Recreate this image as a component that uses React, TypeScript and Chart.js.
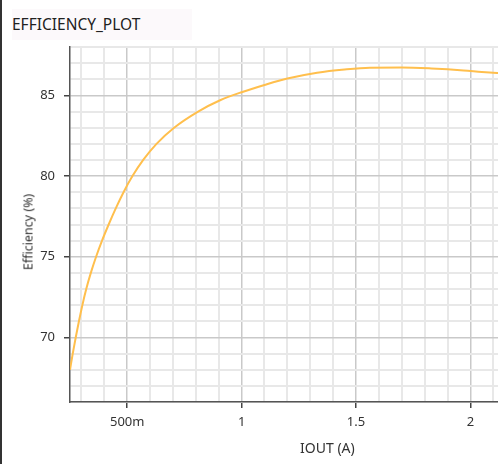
import { useEffect, useRef } from "react";
import { Chart, registerables } from "chart.js";

Chart.register(...registerables);

// values
const iout = [
  0.25, 0.262, 0.275, 0.289, 0.304, 0.321, 0.341, 0.364, 0.39, 0.419, 0.45,
  0.484, 0.523, 0.57, 0.628, 0.705, 0.81, 0.906, 1.0, 1.1, 1.2, 1.33, 1.45,
  1.56, 1.7, 1.83, 1.97, 2.05, 2.15,
];
const efficiency = [
  68.0, 69.0, 70.0, 71.0, 72.0, 73.0, 74.0, 75.0, 76.0, 77.0, 78.0, 79.0, 80.0,
  81.0, 82.0, 83.0, 84.0, 84.7, 85.2, 85.65, 86.05, 86.41, 86.61, 86.72,
  86.73, 86.67, 86.55, 86.45, 86.35,
];
const xMajorLabels: Record<string, string> = {
  "0.5": "500m",
  "1": "1",
  "1.5": "1.5",
  "2": "2",
  "2.5": "2.5",
};

const CANVAS_W = 600;
const CANVAS_H = 464;
const FONT = "'Noto Sans', sans-serif";

const isMult = (v: number, step: number) =>
  Math.abs(v / step - Math.round(v / step)) < 1e-6;

export default function App() {
  const ref = useRef<HTMLCanvasElement>(null);

  useEffect(() => {
    if (!ref.current) return;
    const canvas = ref.current;
    canvas.width = CANVAS_W;
    canvas.height = CANVAS_H;

    const xGrid: number[] = [];
    for (let i = 3; i <= 25; i++) xGrid.push(i / 10);
    const yGrid: number[] = [];
    for (let v = 66; v <= 88; v++) yGrid.push(v);

    const chart = new Chart(canvas, {
      type: "line",
      data: {
        datasets: [
          {
            label: "Efficiency",
            data: iout.map((x, i) => ({ x, y: efficiency[i] })),
            borderColor: "#ffbf4d",
            borderWidth: 2,
            pointRadius: 0,
            cubicInterpolationMode: "monotone",
          },
        ],
      },
      options: {
        responsive: false,
        maintainAspectRatio: false,
        animation: false,
        layout: { padding: { top: 47, left: 0, right: 14, bottom: 0 } },
        plugins: { legend: { display: false }, tooltip: { enabled: false } },
        scales: {
          x: {
            type: "linear",
            min: 0.25,
            max: 2.5,
            afterBuildTicks: (axis: any) => {
              axis.ticks = xGrid.map((value) => ({ value }));
            },
            afterFit: (axis: any) => {
              axis.height = 62;
            },
            border: { color: "#555", width: 1.5 },
            grid: {
              color: (ctx: any) =>
                isMult(ctx.tick.value, 0.5) ? "#c9c9c9" : "#e8e8e8",
              lineWidth: (ctx: any) => (isMult(ctx.tick.value, 0.5) ? 1.5 : 2),
              tickColor: (ctx: any) =>
                isMult(ctx.tick.value, 0.5) ? "#444" : "rgba(0,0,0,0)",
              tickWidth: 1.5,
              tickLength: 6,
            },
            ticks: {
              autoSkip: false,
              maxRotation: 0,
              padding: 6,
              color: "#333",
              font: { family: FONT, size: 13 },
              callback: (v: number | string) => {
                const n = Number(v);
                if (!isMult(n, 0.5)) return "";
                return xMajorLabels[String(Math.round(n * 10) / 10)] ?? "";
              },
            },
            title: {
              display: true,
              text: "IOUT (A)",
              color: "#333",
              font: { family: FONT, size: 14 },
              padding: { top: 0, bottom: 7 },
            },
          },
          y: {
            min: 66,
            max: 88,
            afterBuildTicks: (axis: any) => {
              axis.ticks = yGrid.map((value) => ({ value }));
            },
            afterFit: (axis: any) => {
              axis.width = 70;
            },
            border: { color: "#555", width: 1.5 },
            grid: {
              color: (ctx: any) =>
                isMult(ctx.tick.value, 5) ? "#c9c9c9" : "#e8e8e8",
              lineWidth: (ctx: any) => (isMult(ctx.tick.value, 5) ? 1.5 : 2),
              tickColor: (ctx: any) =>
                isMult(ctx.tick.value, 5) ? "#444" : "rgba(0,0,0,0)",
              tickWidth: 1.5,
              tickLength: 6,
            },
            ticks: {
              autoSkip: false,
              padding: 9,
              color: "#333",
              font: { family: FONT, size: 13 },
              callback: (v: number | string) =>
                isMult(Number(v), 5) ? String(Number(v)) : "",
            },
          },
        },
      },
    });

    return () => {
      chart.destroy();
    };
  }, []);

  return (
    <div
      style={{
        position: "absolute",
        left: 0,
        top: 0,
        width: 498,
        height: 464,
        overflow: "hidden",
        background: "#fff",
        fontFamily: FONT,
      }}
    >
      <canvas
        ref={ref}
        style={{
          position: "absolute",
          left: 0,
          top: 0,
          width: CANVAS_W,
          height: CANVAS_H,
          display: "block",
        }}
      />
      <div
        style={{
          position: "absolute",
          left: 0,
          top: 0,
          width: 2,
          height: 464,
          background: "#333",
        }}
      />
      <div
        style={{
          position: "absolute",
          left: 12,
          top: 9,
          width: 180,
          height: 31,
          lineHeight: "31px",
          background: "#fcf9fb",
          fontSize: 15.5,
          color: "#222",
          whiteSpace: "nowrap",
        }}
      >
        EFFICIENCY_PLOT
      </div>
      <div
        style={{
          position: "absolute",
          left: 28,
          top: 232,
          transform: "translate(-50%, -50%) rotate(-90deg)",
          fontSize: 12.5,
          color: "#333",
          whiteSpace: "nowrap",
        }}
      >
        Efficiency (%)
      </div>
    </div>
  );
}
